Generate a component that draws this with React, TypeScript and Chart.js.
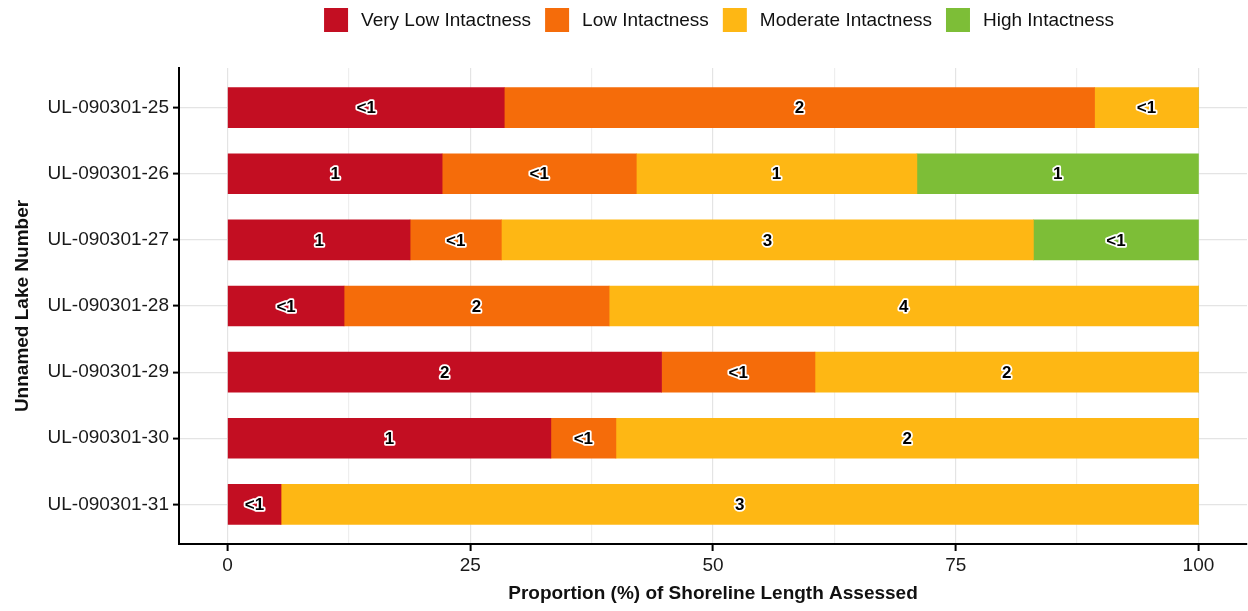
import React, { useEffect, useRef } from 'react';
import { Chart, registerables } from 'chart.js';

Chart.register(...registerables);

const categories = [
  'UL-090301-25',
  'UL-090301-26',
  'UL-090301-27',
  'UL-090301-28',
  'UL-090301-29',
  'UL-090301-30',
  'UL-090301-31',
];

const seriesNames = ['Very Low Intactness', 'Low Intactness', 'Moderate Intactness', 'High Intactness'];
const seriesColors = ['#C30E22', '#F56C0A', '#FEB714', '#7DBE37'];

const veryLow = [28.5, 22.1, 18.8, 12.0, 44.7, 33.3, 5.5];
const low = [60.8, 20.0, 9.4, 27.3, 15.8, 6.7, 0];
const moderate = [10.7, 28.9, 54.8, 60.7, 39.5, 60.0, 94.5];
const high = [0, 29.0, 17.0, 0, 0, 0, 0];

const veryLowLabels = ['<1', '1', '1', '<1', '2', '1', '<1'];
const lowLabels = ['2', '<1', '<1', '2', '<1', '<1', ''];
const moderateLabels = ['<1', '1', '3', '4', '2', '2', '3'];
const highLabels = ['', '1', '<1', '', '', '', ''];

const xTicks = [0, 12.5, 25, 37.5, 50, 62.5, 75, 87.5, 100];
const xTitle = 'Proportion (%) of Shoreline Length Assessed';
const yTitle = 'Unnamed Lake Number';

const FONT = '"Liberation Sans", Arial, Helvetica, sans-serif';

const seriesValues = [veryLow, low, moderate, high];
const seriesLabels = [veryLowLabels, lowLabels, moderateLabels, highLabels];

const legendPlugin = {
  id: 'customLegend',
  afterDraw(chart: any) {
    const ctx = chart.ctx;
    ctx.save();
    ctx.font = `19px ${FONT}`;
    ctx.textBaseline = 'middle';
    ctx.textAlign = 'left';
    const box = 24;
    const gapText = 13;
    const gapItem = 14;
    const widths = seriesNames.map((n) => ctx.measureText(n).width);
    const total =
      widths.reduce((a, w) => a + box + gapText + w, 0) + gapItem * (seriesNames.length - 1);
    const center = (chart.chartArea.left + chart.chartArea.right) / 2 + 6;
    let x = center - total / 2;
    const yMid = 20;
    seriesNames.forEach((name, i) => {
      ctx.fillStyle = seriesColors[i];
      ctx.fillRect(x, yMid - box / 2, box, box);
      ctx.fillStyle = '#111111';
      ctx.fillText(name, x + box + gapText, yMid + 1);
      x += box + gapText + widths[i] + gapItem;
    });
    ctx.restore();
  },
};

const barLabelPlugin = {
  id: 'barLabels',
  afterDatasetsDraw(chart: any) {
    const ctx = chart.ctx;
    ctx.save();
    ctx.font = `bold 17px ${FONT}`;
    ctx.textAlign = 'center';
    ctx.textBaseline = 'middle';
    ctx.lineJoin = 'round';
    chart.data.datasets.forEach((_: any, di: number) => {
      const meta = chart.getDatasetMeta(di);
      meta.data.forEach((el: any, i: number) => {
        const lab = seriesLabels[di][i];
        if (!lab) return;
        const p = el.getProps(['x', 'y', 'base'], true);
        const cx = (p.x + p.base) / 2;
        ctx.strokeStyle = '#ffffff';
        ctx.lineWidth = 3.5;
        ctx.strokeText(lab, cx, p.y + 1);
        ctx.fillStyle = '#000000';
        ctx.fillText(lab, cx, p.y + 1);
      });
    });
    ctx.restore();
  },
};

export default function App() {
  const ref = useRef<HTMLCanvasElement>(null);

  useEffect(() => {
    if (!ref.current) return;
    Chart.defaults.font.family = FONT;
    const datasets = seriesNames.map((name, si) => ({
      label: name,
      data: seriesValues[si].map((v, i) => ({ x: v, y: i })),
      backgroundColor: seriesColors[si],
      borderWidth: 0,
      barThickness: 40,
    }));

    const chart = new Chart(ref.current, {
      type: 'bar',
      data: { datasets },
      plugins: [legendPlugin, barLabelPlugin],
      options: {
        animation: false,
        responsive: true,
        maintainAspectRatio: false,
        indexAxis: 'y',
        layout: { padding: { top: 68, right: 1, left: 0, bottom: 0 } },
        plugins: {
          legend: { display: false },
          tooltip: { enabled: false },
        },
        scales: {
          x: {
            type: 'linear',
            stacked: true,
            min: -5,
            max: 105,
            offset: false,
            afterBuildTicks: (s: any) => {
              s.ticks = xTicks.map((v) => ({ value: v }));
            },
            afterFit: (s: any) => {
              s.height = 67;
            },
            grid: {
              offset: false,
              color: (c: any) => (c.tick && c.tick.value % 25 === 0 ? '#E4E4E4' : '#EEEEEE'),
              tickColor: (c: any) => (c.tick && c.tick.value % 25 === 0 ? '#000000' : 'rgba(0,0,0,0)'),
              tickLength: 7,
              tickWidth: 2,
              lineWidth: 1.2,
            },
            border: { color: '#000000', width: 2 },
            ticks: {
              autoSkip: false,
              maxRotation: 0,
              padding: 3,
              color: '#1a1a1a',
              font: { size: 19 },
              callback: (v: any) => (Number(v) % 25 === 0 ? String(v) : ''),
            },
            title: {
              display: true,
              text: xTitle,
              color: '#111111',
              font: { size: 19, weight: 'bold' },
              padding: { top: 0, bottom: 6 },
            },
          },
          y: {
            type: 'linear',
            stacked: true,
            reverse: true,
            min: -0.6,
            max: 6.6,
            offset: false,
            afterBuildTicks: (s: any) => {
              s.ticks = categories.map((_, i) => ({ value: i }));
            },
            afterFit: (s: any) => {
              s.width = 179;
            },
            grid: {
              offset: false,
              color: '#E4E4E4',
              tickColor: '#000000',
              tickLength: 6,
              tickWidth: 2,
              lineWidth: 1.2,
            },
            border: { color: '#000000', width: 2 },
            ticks: {
              autoSkip: false,
              padding: 4,
              color: '#1a1a1a',
              font: { size: 19 },
              callback: (v: any) => categories[Number(v)] ?? '',
            },
            title: {
              display: true,
              text: yTitle,
              color: '#111111',
              font: { size: 19, weight: 'bold' },
              padding: { top: 11, bottom: 0 },
            },
          },
        },
      } as any,
    });
    return () => chart.destroy();
  }, []);

  return (
    <div style={{ position: 'fixed', left: 0, top: 0, width: 1248, height: 611, background: '#fff' }}>
      <canvas ref={ref} />
    </div>
  );
}
